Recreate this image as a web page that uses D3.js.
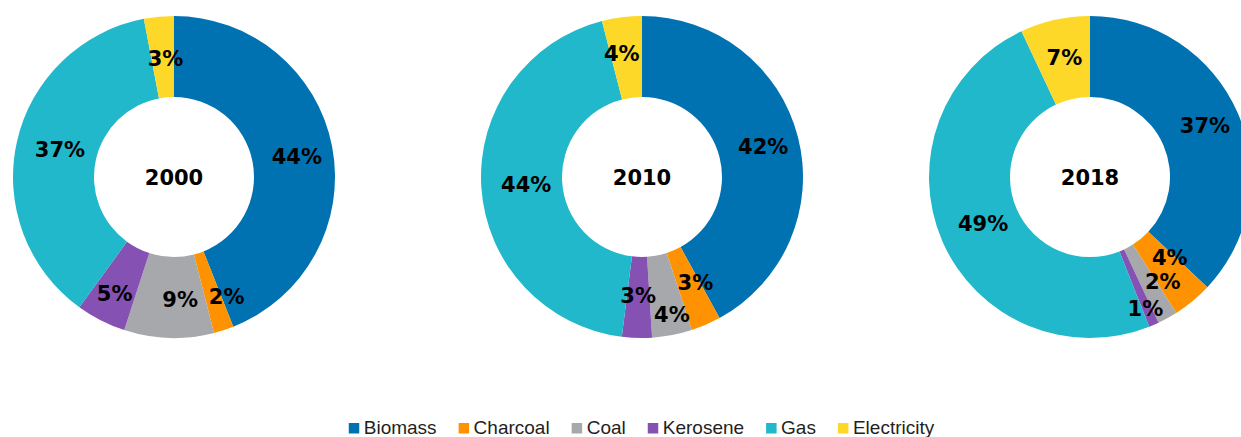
<!DOCTYPE html>
<html>
<head>
<meta charset="utf-8">
<script src="https://cdn.jsdelivr.net/npm/d3@7"></script>
<style>
  html, body { margin: 0; padding: 0; background: #ffffff; }
  svg { display: block; }
</style>
</head>
<body>
<svg id="chart" width="1241" height="437"></svg>
<script>
// ---- data ----
const categories = ["Biomass", "Charcoal", "Coal", "Kerosene", "Gas", "Electricity"];
const years = ["2000", "2010", "2018"];
const values2000 = [44, 2, 9, 5, 37, 3];
const values2010 = [42, 3, 4, 3, 44, 4];
const values2018 = [37, 4, 2, 1, 49, 7];
const colors = ["#0072b2", "#ff9200", "#a7a8ab", "#8551b2", "#21b8cb", "#fdd828"];

// ---- layout ----
const W = 1241, H = 437;
const centersX = [174, 642, 1090];
const centerY = 177;
const outerR = 161, innerR = 80, labelR = 122;
// manual label nudges (px) from the arc centroid, per donut / per slice
const labelNudge = [
  [[3, 2], [15, 3], [10, 0], [-4, 8], [5, -1], [3, 3]],
  [[3, 0], [5, -7], [7, 18], [0, -4], [6, 0], [-5, -3]],
  [[3, -3], [2, -14], [14, -2], [7, 19], [5, -2], [1, -1]]
];

const svg = d3.select("#chart");
const color = d3.scaleOrdinal().domain(categories).range(colors);
const pie = d3.pie().sort(null).value(d => d.value);
const arc = d3.arc().innerRadius(innerR).outerRadius(outerR);
const labelArc = d3.arc().innerRadius(labelR).outerRadius(labelR);

const series = [values2000, values2010, values2018];

series.forEach((vals, i) => {
  const data = categories.map((c, k) => ({ cat: c, value: vals[k], k }));
  const g = svg.append("g").attr("transform", `translate(${centersX[i]},${centerY})`);
  const arcs = pie(data);
  g.selectAll("path.slice").data(arcs).join("path")
    .attr("class", "slice")
    .attr("d", arc)
    .attr("fill", d => color(d.data.cat));
  g.selectAll("text.lbl").data(arcs).join("text")
    .attr("class", "lbl")
    .attr("transform", d => {
      const [cx, cy] = labelArc.centroid(d);
      const n = labelNudge[i][d.data.k];
      return `translate(${cx + n[0]},${cy + n[1]})`;
    })
    .attr("text-anchor", "middle")
    .attr("dy", "0.36em")
    .attr("font-family", "'DejaVu Sans', sans-serif")
    .attr("font-weight", "bold")
    .attr("font-size", 21)
    .attr("fill", "#000")
    .text(d => d.data.value + "%");
  g.append("text")
    .attr("text-anchor", "middle")
    .attr("dy", "0.36em")
    .attr("font-family", "'DejaVu Sans', sans-serif")
    .attr("font-weight", "bold")
    .attr("font-size", 21)
    .attr("fill", "#000")
    .text(years[i]);
});

// ---- legend ----
const legend = svg.append("g").attr("font-family", "'Liberation Sans', Arial, sans-serif").attr("font-size", 19);
const items = [];
categories.forEach(c => {
  const it = legend.append("g");
  it.append("rect").attr("x", 0).attr("y", -10).attr("width", 10.5).attr("height", 10.5).attr("fill", color(c));
  const t = it.append("text").attr("x", 15).attr("y", 0.5).attr("fill", "#231f20").text(c);
  const w = 15 + t.node().getComputedTextLength();
  items.push({ it, w });
});
const gap = 22;
const total = items.reduce((s, d) => s + d.w, 0) + gap * (items.length - 1);
let start = 345 + (938 - 345 - total) / 2;
items.forEach(d => {
  d.it.attr("transform", `translate(${start},${433})`);
  start += d.w + gap;
});
</script>
</body>
</html>
